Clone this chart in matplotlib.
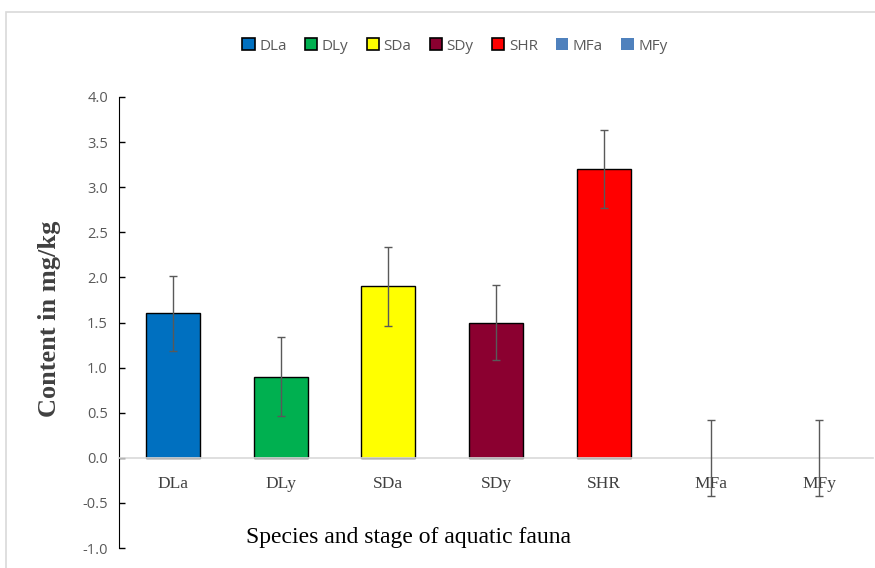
import matplotlib.pyplot as plt
from matplotlib.patches import Patch, Rectangle

# datos
species = ["DLa", "DLy", "SDa", "SDy", "SHR", "MFa", "MFy"]
content = [1.6, 0.9, 1.9, 1.5, 3.2, 0.0, 0.0]
errors = [0.42, 0.44, 0.44, 0.42, 0.43, 0.42, 0.42]
colors = ["#0070c0", "#00b050", "#ffff00", "#8b0030", "#ff0000", "#4f81bd", "#4f81bd"]
y_ticks = [-1.0, -0.5, 0.0, 0.5, 1.0, 1.5, 2.0, 2.5, 3.0, 3.5, 4.0]

fig = plt.figure(figsize=(8.75, 5.68), dpi=100)

# marco gris del area del grafico
fig.patches.append(Rectangle((6 / 875, -0.05), 1.0, 1 - 12 / 568 + 0.05,
                             transform=fig.transFigure, fill=False,
                             edgecolor="#d9d9d9", linewidth=1.2))

ax = fig.add_axes([119 / 875, 20 / 568, 754 / 875, 451 / 568])

# ejes primero (set_position reinicia los ticks)
for s in ["top", "right"]:
    ax.spines[s].set_visible(False)
ax.spines["bottom"].set_position(("data", 0))
ax.spines["bottom"].set_color("#d9d9d9")
ax.spines["bottom"].set_linewidth(1.2)
ax.spines["left"].set_color("black")

x = range(len(species))
edges = ["none" if s.startswith("MF") else "black" for s in species]
ax.bar(x, content, width=0.5, color=colors, edgecolor=edges, linewidth=1, zorder=2)
ax.errorbar(x, content, yerr=errors, fmt="none", ecolor="#595959",
            elinewidth=1, capsize=3, capthick=1, zorder=3)

ax.set_xlim(-0.5, 6.5)
ax.set_ylim(-1.0, 4.0)
ax.set_yticks(y_ticks)
ax.set_yticklabels([f"{v:.1f}" for v in y_ticks], fontsize=10.5, color="#595959",
                   family="Open Sans")
ax.tick_params(axis="y", direction="in", length=4, width=1, pad=8)
ax.set_xticks(list(x))
ax.set_xticklabels(species, fontsize=12.5, color="#404040", family="Liberation Serif",
                   zorder=1)
ax.tick_params(axis="x", length=0, pad=13)

fig.text(50 / 875, 1 - 319 / 568, "Content in mg/kg", rotation=90, ha="center",
         va="center", fontsize=19, fontweight="bold", color="#404040",
         family="Liberation Serif")
fig.text(408 / 875, 1 - 537 / 568, "Species and stage of aquatic fauna",
         ha="center", va="center", fontsize=17, color="black",
         family="Liberation Serif")

handles = []
for name, c in zip(species, colors):
    if name.startswith("MF"):
        handles.append(Patch(facecolor=c, edgecolor="none", label=name))
    else:
        handles.append(Patch(facecolor=c, edgecolor="black", linewidth=1.2, label=name))
leg = fig.legend(handles=handles, loc="center", bbox_to_anchor=(455 / 875, 1 - 46 / 568),
                 ncol=7, frameon=False, fontsize=11, handlelength=0.8, handleheight=0.8,
                 handletextpad=0.3, columnspacing=1.2)
for t in leg.get_texts():
    t.set_color("#595959")
    t.set_family("Open Sans")

fig.savefig("out.png", dpi=100)
